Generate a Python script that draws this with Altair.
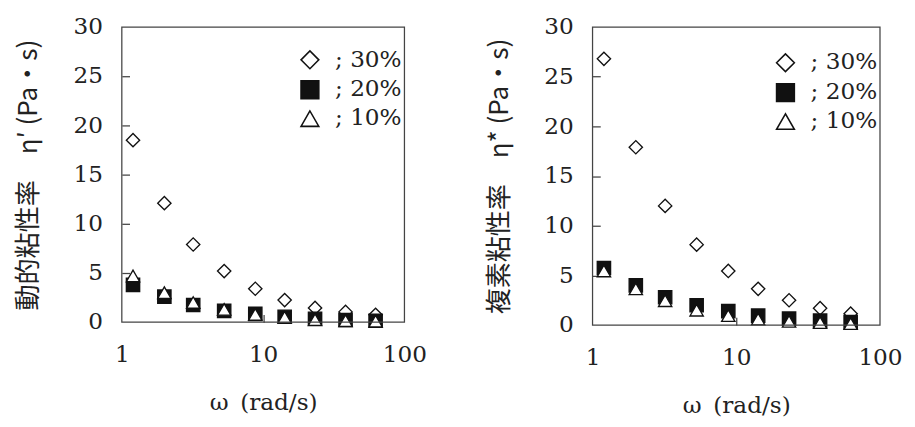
import altair as alt
import pandas as pd

# ---- data ----
omega = [1.2, 2.0, 3.2, 5.3, 8.8, 14.2, 23.3, 38.3, 62.5]
series_labels = ["; 30%", "; 20%", "; 10%"]

# dynamic viscosity eta'
left_30 = [18.5, 12.1, 7.9, 5.2, 3.4, 2.25, 1.45, 1.05, 0.75]
left_20 = [3.8, 2.6, 1.75, 1.15, 0.85, 0.55, 0.35, 0.22, 0.15]
left_10 = [4.7, 3.0, 2.0, 1.3, 0.8, 0.5, 0.25, 0.15, 0.1]

# complex viscosity eta*
right_30 = [26.8, 17.9, 12.0, 8.1, 5.45, 3.65, 2.5, 1.7, 1.15]
right_20 = [5.75, 4.0, 2.8, 2.0, 1.4, 0.95, 0.65, 0.45, 0.3]
right_10 = [5.45, 3.65, 2.45, 1.5, 0.95, 0.6, 0.38, 0.25, 0.15]

y_ticks = [0, 5, 10, 15, 20, 25, 30]
inner_y_ticks = [5, 10, 15, 20, 25]
x_ticks = [1, 10, 100]
inner_x_ticks = [10]

left_title = "動的粘性率\u3000η′ (Pa・s)"
right_title = "複素粘性率\u3000η* (Pa・s)"
x_title = "ω\u2002(rad/s)"

TXT = "#222222"
LINE = "#444444"
NUM_FONT = "DejaVu Serif"
CJK_FONT = "Noto Sans CJK JP"


def make_df(s30, s20, s10):
    rows = []
    for lab, vals in zip(series_labels, [s30, s20, s10]):
        for w, v in zip(omega, vals):
            rows.append({"omega": w, "value": v, "series": lab})
    return pd.DataFrame(rows)


def panel(df, ytitle, w, h, lx, ly):
    xs = alt.Scale(type="log", domain=[1, 100], nice=False)
    ys = alt.Scale(domain=[0, 30], nice=False, zero=True)
    xaxis = alt.Axis(values=x_ticks, format="d", ticks=False, domain=False,
                     grid=False, labelFlush=False, labelFont=NUM_FONT,
                     labelFontSize=24, labelColor=TXT, labelPadding=22,
                     titleFont=NUM_FONT, titleFontSize=24,
                     titleFontWeight="normal", titleColor=TXT, titlePadding=26)
    yaxis = alt.Axis(values=y_ticks, ticks=False, domain=False, grid=False,
                     labelFlush=False, labelFont=NUM_FONT, labelFontSize=24,
                     labelColor=TXT, labelPadding=20, titleFont=CJK_FONT,
                     titleFontSize=27, titleFontWeight="normal",
                     titleColor=TXT, titlePadding=32)
    # inner tick marks: axes placed on the opposite side and shifted across the plot
    yaxis_in = alt.Axis(orient="right", offset=-w, values=inner_y_ticks,
                        labels=False, domain=False, grid=False, ticks=True,
                        tickSize=8, tickColor=LINE, tickWidth=1.3, title=None)
    xaxis_in = alt.Axis(orient="top", offset=-h, values=inner_x_ticks,
                        labels=False, domain=False, grid=False, ticks=True,
                        tickSize=8, tickColor=LINE, tickWidth=1.3, title=None)
    pts = alt.Chart(df).mark_point(filled=False, strokeWidth=1.4, opacity=1,
                                   size=190).encode(
        x=alt.X("omega:Q", scale=xs, title=x_title, axis=xaxis),
        y=alt.Y("value:Q", scale=ys, title=ytitle, axis=yaxis),
        shape=alt.Shape("series:N",
                        scale=alt.Scale(domain=series_labels,
                                        range=["diamond", "square", "triangle-up"]),
                        legend=alt.Legend(title=None, orient="none", legendX=lx,
                                          legendY=ly, labelFont=NUM_FONT,
                                          labelFontSize=24, labelColor=TXT,
                                          symbolSize=340, symbolStrokeWidth=1.6,
                                          rowPadding=5, labelOffset=14, padding=0)),
        fill=alt.Fill("series:N",
                      scale=alt.Scale(domain=series_labels,
                                      range=["white", "#111111", "white"])),
        stroke=alt.Stroke("series:N",
                          scale=alt.Scale(domain=series_labels,
                                          range=["#111111", "#111111", "#111111"])),
    )
    ghost = alt.Chart(df).mark_point(opacity=0).encode(
        x=alt.X("omega:Q", scale=xs, axis=xaxis_in),
        y=alt.Y("value:Q", scale=ys, axis=yaxis_in),
    )
    frame = alt.Chart(pd.DataFrame({"f": [0]})).mark_rect(
        fill="white", fillOpacity=0, stroke=LINE, strokeWidth=1.3).encode(
        x=alt.value(0), x2=alt.value(w), y=alt.value(0), y2=alt.value(h))
    return alt.layer(pts, ghost, frame).resolve_axis(
        x="independent", y="independent").properties(width=w, height=h)


left = panel(make_df(left_30, left_20, left_10), left_title, 293, 306, 183, 22)
right = panel(make_df(right_30, right_20, right_10), right_title, 298, 309, 188, 25)

chart = alt.hconcat(left, right, spacing=61).resolve_scale(
    shape="independent", fill="independent", stroke="independent"
).resolve_legend(
    shape="independent", fill="independent", stroke="independent"
).properties(
    padding={"left": 7, "top": 0, "right": 5, "bottom": 5},
    background="white",
).configure_view(stroke=None)

chart.save("out.html", embed_options={"renderer": "svg", "actions": False})
